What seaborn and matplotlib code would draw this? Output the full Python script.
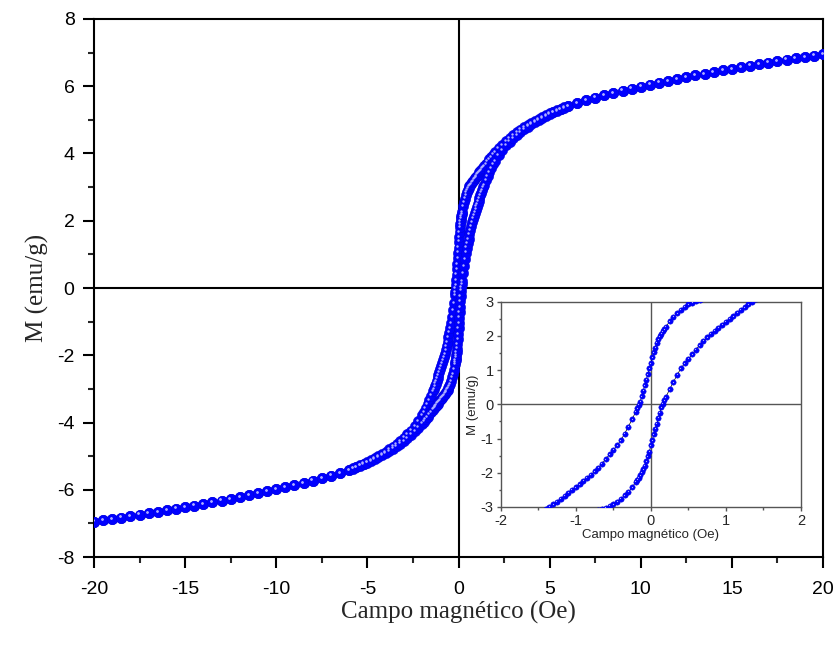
import pandas as pd
import matplotlib
matplotlib.use('Agg')
import matplotlib.pyplot as plt
import matplotlib.transforms as mtransforms
from matplotlib.ticker import MultipleLocator
import seaborn as sns

# Campo magnetico (Oe), same grid for both branches of the loop
campo = [-20, -19.5, -19, -18.5, -18, -17.5, -17, -16.5, -16, -15.5, -15, -14.5, -14, -13.5,
         -13, -12.5, -12, -11.5, -11, -10.5, -10, -9.5, -9, -8.5, -8, -7.5, -7, -6.5, -6,
         -5.8, -5.6, -5.4, -5.2, -5.0, -4.8, -4.6, -4.4, -4.2, -4.0, -3.8, -3.6, -3.4, -3.2,
         -3.0, -2.8, -2.6, -2.4, -2.2, -2.0, -1.9, -1.8, -1.7, -1.6, -1.5, -1.4,
         -1.35, -1.3, -1.25, -1.2, -1.15, -1.1, -1.05, -1.0, -0.95, -0.9, -0.85, -0.8,
         -0.75, -0.7, -0.65, -0.6, -0.55, -0.5, -0.45, -0.4, -0.35, -0.3, -0.25, -0.2,
         -0.18, -0.16, -0.14, -0.12, -0.1, -0.08, -0.06, -0.04, -0.02, 0,
         0.02, 0.04, 0.06, 0.08, 0.1, 0.12, 0.14, 0.16, 0.18,
         0.2, 0.25, 0.3, 0.35, 0.4, 0.45, 0.5, 0.55, 0.6, 0.65, 0.7, 0.75, 0.8, 0.85,
         0.9, 0.95, 1.0, 1.05, 1.1, 1.15, 1.2, 1.25, 1.3, 1.35,
         1.4, 1.5, 1.6, 1.7, 1.8, 1.9, 2.0, 2.2, 2.4, 2.6, 2.8, 3.0, 3.2, 3.4, 3.6, 3.8,
         4.0, 4.2, 4.4, 4.6, 4.8, 5.0, 5.2, 5.4, 5.6, 5.8,
         6, 6.5, 7, 7.5, 8, 8.5, 9, 9.5, 10, 10.5, 11, 11.5, 12, 12.5, 13, 13.5, 14,
         14.5, 15, 15.5, 16, 16.5, 17, 17.5, 18, 18.5, 19, 19.5, 20]

# rama descendente (upper branch), M in emu/g
m_bajada = [-6.95, -6.91, -6.87, -6.83, -6.79, -6.74, -6.70, -6.66, -6.61, -6.56, -6.52, -6.47,
            -6.42, -6.37, -6.32, -6.27, -6.22, -6.16, -6.11, -6.05, -5.99, -5.93, -5.87, -5.80,
            -5.73, -5.66, -5.58, -5.50, -5.41,
            -5.36, -5.32, -5.27, -5.22, -5.17, -5.12, -5.06, -5.00, -4.94, -4.87, -4.80, -4.72,
            -4.64, -4.55, -4.45, -4.35, -4.24, -4.11, -3.96, -3.78, -3.68, -3.57, -3.45, -3.33,
            -3.20, -3.07,
            -3.00, -2.92, -2.84, -2.76, -2.67, -2.58, -2.50, -2.42, -2.33, -2.24, -2.15, -2.06,
            -1.96, -1.85, -1.73, -1.60, -1.46, -1.33, -1.20, -1.05, -0.86, -0.65, -0.44, -0.21,
            -0.12, -0.02, 0.08, 0.24, 0.40, 0.56, 0.72, 0.88, 1.05, 1.20,
            1.38, 1.52, 1.66, 1.80, 1.90, 1.99, 2.07, 2.14, 2.20,
            2.26, 2.43, 2.56, 2.66, 2.76, 2.85, 2.92, 2.97, 3.02, 3.06, 3.10, 3.14, 3.18, 3.22,
            3.26, 3.29, 3.33, 3.37, 3.40, 3.44, 3.48, 3.51, 3.55, 3.58,
            3.62, 3.69, 3.76, 3.83, 3.90, 3.97, 4.03, 4.15, 4.26, 4.36, 4.46, 4.55, 4.63, 4.71,
            4.78, 4.85, 4.91, 4.97, 5.03, 5.09, 5.14, 5.19, 5.24, 5.28, 5.33, 5.37,
            5.41, 5.50, 5.58, 5.66, 5.73, 5.80, 5.87, 5.93, 5.99, 6.05, 6.11, 6.16, 6.22, 6.27,
            6.32, 6.37, 6.42, 6.47, 6.52, 6.56, 6.61, 6.66, 6.70, 6.74, 6.79, 6.83, 6.87, 6.91,
            6.95]

# rama ascendente (lower branch)
m_subida = [-6.95, -6.91, -6.87, -6.83, -6.79, -6.74, -6.70, -6.66, -6.61, -6.56, -6.52, -6.47,
            -6.42, -6.37, -6.32, -6.27, -6.22, -6.16, -6.11, -6.05, -5.99, -5.93, -5.87, -5.80,
            -5.73, -5.66, -5.58, -5.50, -5.41,
            -5.37, -5.33, -5.28, -5.24, -5.19, -5.14, -5.09, -5.03, -4.97, -4.91, -4.85, -4.78,
            -4.71, -4.63, -4.55, -4.46, -4.36, -4.26, -4.15, -4.03, -3.97, -3.90, -3.83, -3.76,
            -3.69, -3.62,
            -3.58, -3.55, -3.51, -3.48, -3.44, -3.40, -3.37, -3.33, -3.29, -3.26, -3.22, -3.18,
            -3.14, -3.10, -3.06, -3.02, -2.97, -2.92, -2.85, -2.76, -2.66, -2.56, -2.43, -2.26,
            -2.20, -2.14, -2.07, -1.99, -1.90, -1.80, -1.66, -1.52, -1.38, -1.20,
            -1.05, -0.88, -0.72, -0.56, -0.40, -0.24, -0.08, 0.02, 0.12,
            0.21, 0.44, 0.65, 0.86, 1.05, 1.20, 1.33, 1.46, 1.60, 1.73, 1.85, 1.96, 2.06, 2.15,
            2.24, 2.33, 2.42, 2.50, 2.58, 2.67, 2.76, 2.84, 2.92, 3.00,
            3.07, 3.20, 3.33, 3.45, 3.57, 3.68, 3.78, 3.96, 4.11, 4.24, 4.35, 4.45, 4.55, 4.64,
            4.72, 4.80, 4.87, 4.94, 5.00, 5.06, 5.12, 5.17, 5.22, 5.27, 5.32, 5.36,
            5.41, 5.50, 5.58, 5.66, 5.73, 5.80, 5.87, 5.93, 5.99, 6.05, 6.11, 6.16, 6.22, 6.27,
            6.32, 6.37, 6.42, 6.47, 6.52, 6.56, 6.61, 6.66, 6.70, 6.74, 6.79, 6.83, 6.87, 6.91,
            6.95]

n = len(campo)
df = pd.DataFrame({'H': campo + campo,
                   'M': m_bajada + m_subida,
                   'rama': ['bajada'] * n + ['subida'] * n})

sns.set_style('ticks')
plt.rcParams['font.family'] = ['Liberation Sans', 'DejaVu Sans']
plt.rcParams['axes.unicode_minus'] = False

fig = plt.figure(figsize=(8.37, 6.48), dpi=100)
ax = fig.add_axes([0.1123, 0.1404, 0.871, 0.8303])


def draw_loop(a, size, hl_size, shift):
    sns.lineplot(data=df, x='H', y='M', units='rama', estimator=None, color='black',
                 lw=0.5, ax=a, legend=False, zorder=2)
    sns.scatterplot(data=df, x='H', y='M', color='#0000ff', s=size, edgecolor='#0000d8',
                    linewidth=0.3, ax=a, legend=False, zorder=3)
    # little highlight so the dots look like balls
    off = mtransforms.offset_copy(a.transData, fig=fig, x=-shift, y=shift, units='points')
    a.scatter(df['H'], df['M'], s=hl_size, color='#b0b0ff', lw=0, transform=off, zorder=4)


draw_loop(ax, 56, 3, 0.9)
ax.axhline(0, color='black', lw=1.5, zorder=1)
ax.axvline(0, color='black', lw=1.5, zorder=1)
ax.set_xlim(-20, 20)
ax.set_ylim(-8, 8)
ax.xaxis.set_major_locator(MultipleLocator(5))
ax.xaxis.set_minor_locator(MultipleLocator(2.5))
ax.yaxis.set_major_locator(MultipleLocator(2))
ax.yaxis.set_minor_locator(MultipleLocator(1))
ax.tick_params(which='major', direction='out', length=8, width=1.5, labelsize=14,
               pad=6, top=False, right=False, colors='black')
ax.tick_params(axis='x', which='major', pad=9)
ax.tick_params(which='minor', direction='out', length=4, width=1.5, top=False, right=False)
for s in ax.spines.values():
    s.set_linewidth(1.5)
    s.set_color('black')
ax.set_xlabel('Campo magnético (Oe)', family=['Liberation Serif'], fontsize=18, labelpad=2)
ax.set_ylabel('M (emu/g)', family=['Liberation Serif'], fontsize=18, labelpad=6)

# inset: zoom around the origin
axin = fig.add_axes([0.5982, 0.2176, 0.3588, 0.3168])
axin.set_facecolor('white')
draw_loop(axin, 15, 0.8, 0.4)
axin.axhline(0, color='#555555', lw=1.0, zorder=1)
axin.axvline(0, color='#555555', lw=1.0, zorder=1)
axin.set_xlim(-2, 2)
axin.set_ylim(-3, 3)
axin.xaxis.set_major_locator(MultipleLocator(1))
axin.xaxis.set_minor_locator(MultipleLocator(0.5))
axin.yaxis.set_major_locator(MultipleLocator(1))
axin.yaxis.set_minor_locator(MultipleLocator(0.5))
axin.tick_params(which='major', direction='out', length=3, width=1.0, labelsize=10.5,
                 pad=2, top=False, right=False, color='#555555')
axin.tick_params(which='minor', direction='out', length=1.8, width=1.0, top=False,
                 right=False, color='#555555')
for s in axin.spines.values():
    s.set_linewidth(1.0)
    s.set_color('#555555')
axin.set_xlabel('Campo magnético (Oe)', fontsize=9.5, labelpad=1)
axin.set_ylabel('M (emu/g)', fontsize=9.5, labelpad=1)

fig.savefig('out.png', dpi=100)
